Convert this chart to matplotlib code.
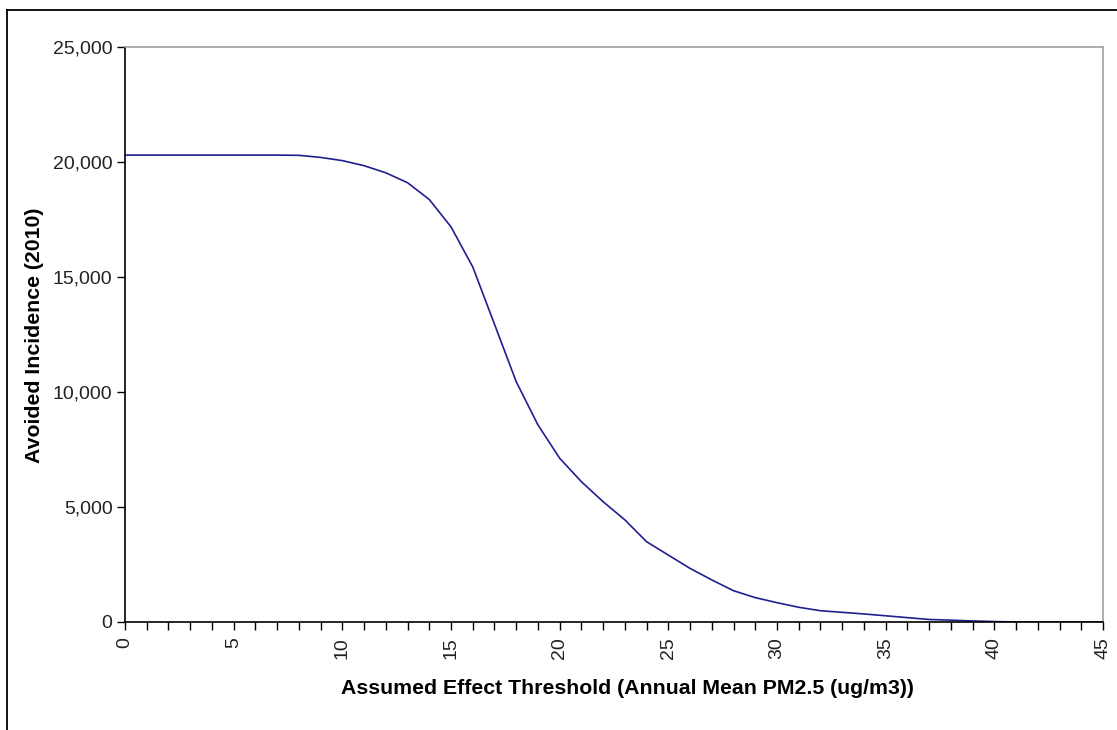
import matplotlib.pyplot as plt
from matplotlib.lines import Line2D
from matplotlib.ticker import FuncFormatter, MultipleLocator


THRESHOLD = list(range(0, 46))
AVOIDED_INCIDENCE = [
    20300, 20300, 20300, 20300, 20300, 20300, 20300, 20300, 20290, 20200,
    20060, 19840, 19530, 19100, 18370, 17180, 15440, 12950, 10450, 8570,
    7120, 6100, 5230, 4440, 3490, 2910, 2330, 1830, 1360, 1060,
    840, 640, 490, 420, 350, 270, 190, 110, 80, 45,
    20, 0, 0, 0, 0, 0,
]

XLABEL = 'Assumed Effect Threshold (Annual Mean PM2.5 (ug/m3))'
YLABEL = 'Avoided Incidence (2010)'

plt.rcParams['font.family'] = ['Liberation Sans', 'DejaVu Sans']

W, H = 1117, 730
fig = plt.figure(figsize=(W / 100, H / 100), dpi=100)
ax = fig.add_axes([125 / W, 1 - 622 / H, (1103 - 125) / W, (622 - 47) / H])

ax.plot(THRESHOLD, AVOIDED_INCIDENCE, color='#1f1f8f', linewidth=1.2)

ax.set_xlim(0, 45)
ax.set_ylim(0, 25000)
ax.xaxis.set_major_locator(MultipleLocator(5))
ax.xaxis.set_minor_locator(MultipleLocator(1))
ax.yaxis.set_major_locator(MultipleLocator(5000))
ax.yaxis.set_major_formatter(FuncFormatter(lambda v, p: f'{int(v):,}'))

ax.tick_params(axis='both', which='both', direction='out', color='black',
               width=1.0, labelsize=14, labelcolor='#222222')
ax.tick_params(axis='x', which='both', length=6, pad=5, labelrotation=90)
ax.tick_params(axis='y', which='major', length=6, pad=3)

for side in ('left', 'bottom'):
    ax.spines[side].set_color('black')
    ax.spines[side].set_linewidth(1.2)
for side in ('top', 'right'):
    ax.spines[side].set_color('#a0a0a0')
    ax.spines[side].set_linewidth(1.2)

fig.text(627 / W, 1 - 688 / H, XLABEL, ha='center', va='center',
         fontsize=15.3, fontweight='bold')
fig.text(35 / W, 1 - 335 / H, YLABEL, ha='center', va='center',
         rotation=90, fontsize=15.3, fontweight='bold')

# outer frame (cropped at right and bottom)
fig.add_artist(Line2D([7 / W, 7 / W], [0, 1 - 10 / H], transform=fig.transFigure,
                      color='black', linewidth=1.3))
fig.add_artist(Line2D([7 / W, 1], [1 - 10 / H, 1 - 10 / H], transform=fig.transFigure,
                      color='black', linewidth=1.3))

fig.savefig('out.png', dpi=100)
